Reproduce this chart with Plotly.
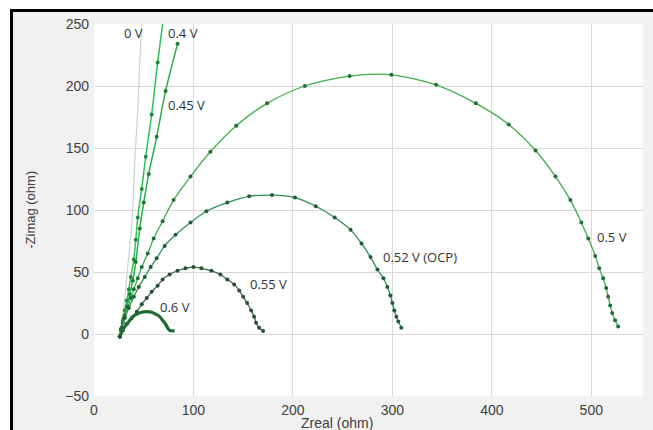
import plotly.graph_objects as go

# ---- data (Zreal, -Zimag in ohm) ----
x_0V = [26, 28, 31, 34, 37, 39, 41, 44, 46, 48.5]
y_0V = [-2, 10, 30, 55, 80, 100, 140, 180, 220, 256]

x_04 = [26, 27, 29, 31, 33, 35, 37, 40, 42, 44, 48, 52, 58, 64, 70]
y_04 = [-2, 4, 11, 19, 27, 36, 46, 60, 76, 94, 117, 143, 177, 219, 256]

x_045 = [26, 28, 30, 33, 36, 39, 42, 46, 50, 55, 63, 72, 84]
y_045 = [-2, 5, 13, 22, 32, 43, 58, 85, 106, 129, 159, 196, 234]

x_05 = [26, 27, 29, 31, 34, 37, 40, 44, 48, 54, 60, 69, 80, 97, 117, 143, 174, 212,
        257, 299, 344, 384, 417, 444, 464, 479, 490, 497, 504, 508, 512, 515, 517,
        519, 521, 524, 527]
y_05 = [-2, 3, 9, 15, 22, 29, 36, 45, 54, 65, 77, 91, 108, 127, 147, 168, 186, 200,
        208, 209, 201, 186, 169, 148, 127, 108, 90, 77, 63, 53, 45, 37, 30,
        23, 17, 11, 6]

x_052 = [26, 28, 31, 35, 40, 45, 51, 57, 63, 71, 82, 97, 113, 134, 156, 179, 202,
         223, 242, 258, 269, 278, 285, 291, 295, 298, 300, 302, 304, 306, 309]
y_052 = [-2, 5, 13, 21, 30, 38, 46, 54, 61, 71, 80, 90, 99, 106, 111, 112, 110,
         103, 94, 84, 73, 62, 52, 45, 38, 31, 25, 19, 14, 10, 5]

x_055 = [26, 29, 33, 38, 43, 48, 53, 58, 64, 69, 76, 84, 92, 100, 108, 118, 127,
         134, 141, 146, 150, 154, 158, 161, 163, 166, 170]
y_055 = [-2, 3, 8, 13, 18, 24, 29, 34, 39, 44, 48, 51, 53, 54, 53, 51, 48,
         44, 40, 35, 30, 25, 19, 14, 9, 5, 2.5]

x_06 = [26, 28, 30, 33, 36, 39, 43, 48, 53, 58, 62, 66, 69, 72, 74, 76, 79, 81]
y_06 = [-2, 2, 5, 8, 11, 14, 16, 17.5, 18, 17.5, 16, 14, 11, 8, 5, 3, 2.5, 2.5]

labels = ["0 V", "0.4 V", "0.45 V", "0.5 V", "0.52 V (OCP)", "0.55 V", "0.6 V"]
label_x = [28, 72, 72, 504, 289, 155, 64]
label_y = [243, 243, 185, 78, 62, 40, 22]

x_ticks = [0, 100, 200, 300, 400, 500]
y_ticks = [-50, 0, 50, 100, 150, 200, 250]

series = [
    (x_0V, y_0V, "#c9d6c9", 1.2, None, "lines"),
    (x_04, y_04, "#2fc155", 1.5, "#1f8a3c", "lines+markers"),
    (x_045, y_045, "#28ad48", 1.5, "#1d7a36", "lines+markers"),
    (x_05, y_05, "#3fae4a", 1.3, "#1f6e33", "lines+markers"),
    (x_052, y_052, "#2f8f5a", 1.3, "#1f5f34", "lines+markers"),
    (x_055, y_055, "#3f6a4a", 1.3, "#2b4f35", "lines+markers"),
    (x_06, y_06, "#1e6a30", 3.2, None, "lines"),
]

fig = go.Figure()
for (xs, ys, col, w, mcol, mode), name in zip(series, labels):
    tr = dict(x=xs, y=ys, mode=mode, name=name,
              line=dict(color=col, width=w, shape="spline", smoothing=0.8))
    if mcol:
        tr["marker"] = dict(color=mcol, size=4)
    fig.add_trace(go.Scatter(**tr))

annotations = []
for t, lx, ly in zip(labels, label_x, label_y):
    annotations.append(dict(x=lx, y=ly, text=t, showarrow=False, xanchor="left",
                            yanchor="middle", xref="x", yref="y",
                            font=dict(family="Open Sans", size=13, color="#333333")))
annotations.append(dict(x=0.443, y=-0.072, xref="paper", yref="paper", text="Zreal (ohm)",
                        showarrow=False, xanchor="center", yanchor="middle",
                        font=dict(family="Liberation Sans", size=14, color="#404040")))
annotations.append(dict(x=-0.117, y=0.5, xref="paper", yref="paper", text="-Zimag (ohm)",
                        showarrow=False, xanchor="center", yanchor="middle", textangle=-90,
                        font=dict(family="Liberation Sans", size=13, color="#404040")))

L, T, R, B = 94, 24, 10, 34
W, H = 653, 430
pw, ph = W - L - R, H - T - B
def px(x):
    return (x - L) / pw
def py(y):
    return (H - B - y) / ph

shapes = [
    # white outside the frame
    dict(type="rect", xref="paper", yref="paper", x0=px(0), x1=px(W), y0=py(0), y1=py(10),
         fillcolor="white", line=dict(width=0), layer="below"),
    dict(type="rect", xref="paper", yref="paper", x0=px(0), x1=px(11), y0=py(0), y1=py(H),
         fillcolor="white", line=dict(width=0), layer="below"),
    # plot area white
    dict(type="rect", xref="paper", yref="paper", x0=0, x1=1, y0=0, y1=1,
         fillcolor="white", line=dict(width=0), layer="below"),
    # black frame (drawn as thin filled bars)
    dict(type="rect", xref="paper", yref="paper", x0=px(10), x1=px(W), y0=py(9), y1=py(12),
         fillcolor="black", line=dict(width=0)),
    dict(type="rect", xref="paper", yref="paper", x0=px(10), x1=px(13), y0=py(9), y1=py(H),
         fillcolor="black", line=dict(width=0)),
]

fig.update_layout(
    width=W, height=H,
    margin=dict(l=L, r=R, t=T, b=B),
    paper_bgcolor="#f1f1f1", plot_bgcolor="white",
    showlegend=False,
    annotations=annotations,
    shapes=shapes,
    font=dict(family="Liberation Sans", size=14, color="#404040"),
)
fig.update_xaxes(range=[0, 552], tickvals=x_ticks, showgrid=True, gridcolor="#d9d9d9",
                 gridwidth=1, zeroline=False, showline=False, ticks="", ticklabelstandoff=4,
                 tickfont=dict(family="Liberation Sans", size=14, color="#404040"))
fig.update_yaxes(range=[-50, 250], tickvals=y_ticks, showgrid=True, gridcolor="#d9d9d9",
                 gridwidth=1, zeroline=True, zerolinecolor="#d9d9d9", zerolinewidth=1,
                 showline=False, ticks="", ticklabelstandoff=4,
                 tickfont=dict(family="Liberation Sans", size=14, color="#404040"))

fig.write_html("out.html",
               config={"displayModeBar": False},
               post_script="document.body.style.margin='0';"
                           "document.documentElement.style.overflow='hidden';"
                           "document.body.style.overflow='hidden';")
